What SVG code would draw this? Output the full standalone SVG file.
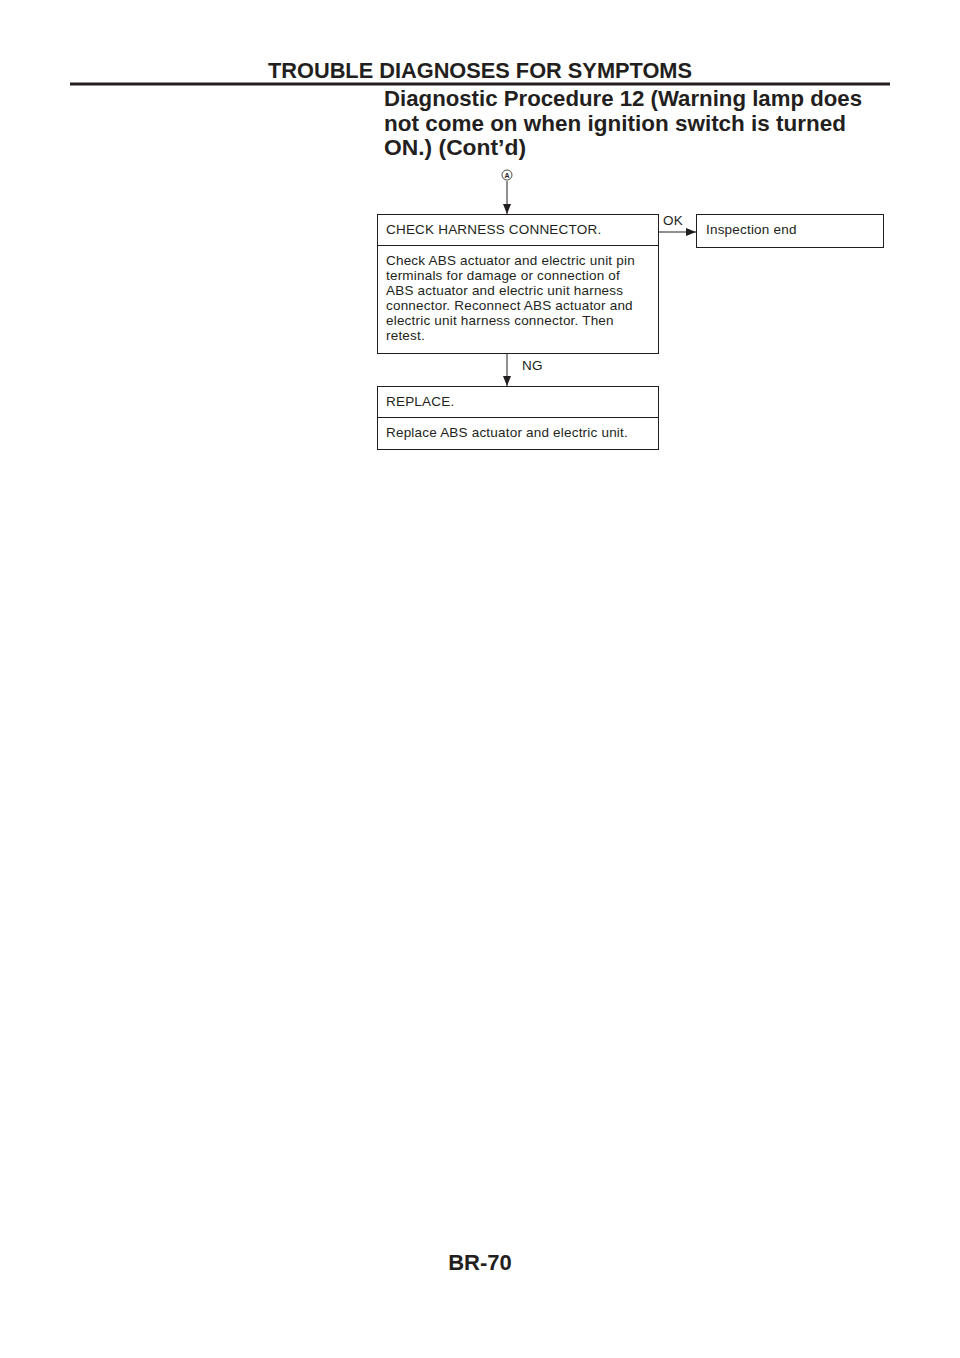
<svg xmlns="http://www.w3.org/2000/svg" width="960" height="1358" viewBox="0 0 960 1358">
<style>
.hd{font-family:"Liberation Sans",Arial,sans-serif;font-weight:bold;fill:#231f20}
.t{font-family:"Liberation Sans",Arial,sans-serif;font-size:13.5px;letter-spacing:0.2px;fill:#231f20}
.box{fill:none;stroke:#231f20;stroke-width:1}
.ln{stroke:#231f20;stroke-width:1;fill:none}
</style>
<defs>
<marker id="ah" viewBox="0 0 10 10" refX="10" refY="5" markerWidth="10" markerHeight="10" markerUnits="userSpaceOnUse" orient="auto">
<path d="M0,1 L10,5 L0,9 Z" fill="#231f20"/>
</marker>
</defs>
<rect width="960" height="1358" fill="#fff"/>
<g id="header">
<text class="hd" x="480" y="78" font-size="22" text-anchor="middle" textLength="424" lengthAdjust="spacingAndGlyphs">TROUBLE DIAGNOSES FOR SYMPTOMS</text>
<rect x="70" y="82.5" width="820" height="3" fill="#231f20"/>
<text class="hd" x="384" y="106" font-size="22" textLength="478" lengthAdjust="spacingAndGlyphs">Diagnostic Procedure 12 (Warning lamp does</text>
<text class="hd" x="384" y="131" font-size="22" textLength="462" lengthAdjust="spacingAndGlyphs">not come on when ignition switch is turned</text>
<text class="hd" x="384" y="155" font-size="22" textLength="142" lengthAdjust="spacingAndGlyphs">ON.) (Cont’d)</text>
</g>
<g id="startA">
<circle cx="507" cy="175" r="5" fill="none" stroke="#231f20" stroke-width="0.8"/>
<text x="507" y="178" font-family="Liberation Sans,Arial,sans-serif" font-size="7" font-weight="bold" text-anchor="middle" fill="#231f20">A</text>
</g>
<g id="connectors">
<line class="ln" x1="507" y1="181" x2="507" y2="214" marker-end="url(#ah)"/>
<line class="ln" x1="658" y1="232" x2="696" y2="232" marker-end="url(#ah)"/>
<text class="t" x="663" y="225">OK</text>
<line class="ln" x1="507" y1="354" x2="507" y2="386" marker-end="url(#ah)"/>
<text class="t" x="522" y="370">NG</text>
</g>
<g id="check">
<rect class="box" x="377.5" y="214.5" width="281" height="139"/>
<line class="ln" x1="377.5" y1="245.5" x2="658.5" y2="245.5"/>
<text class="t" x="386" y="234">CHECK HARNESS CONNECTOR.</text>
<text class="t" x="386" y="265">Check ABS actuator and electric unit pin</text>
<text class="t" x="386" y="280">terminals for damage or connection of</text>
<text class="t" x="386" y="295">ABS actuator and electric unit harness</text>
<text class="t" x="386" y="310">connector. Reconnect ABS actuator and</text>
<text class="t" x="386" y="325">electric unit harness connector. Then</text>
<text class="t" x="386" y="340">retest.</text>
</g>
<g id="inspection">
<rect class="box" x="696.5" y="214.5" width="187" height="33"/>
<text class="t" x="706" y="234">Inspection end</text>
</g>
<g id="replace">
<rect class="box" x="377.5" y="386.5" width="281" height="63"/>
<line class="ln" x1="377.5" y1="417.5" x2="658.5" y2="417.5"/>
<text class="t" x="386" y="405.5">REPLACE.</text>
<text class="t" x="386" y="437">Replace ABS actuator and electric unit.</text>
</g>
<g id="footer">
<text class="hd" x="480" y="1270" font-size="22" text-anchor="middle">BR-70</text>
</g>
</svg>
